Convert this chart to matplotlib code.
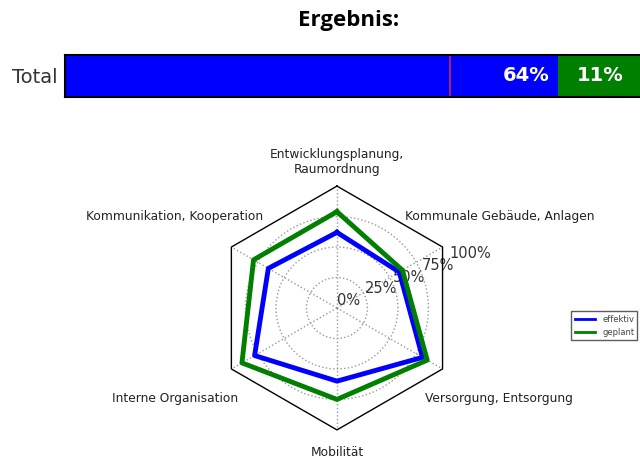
import numpy as np
import matplotlib
matplotlib.use('Agg')
import matplotlib.pyplot as plt
from matplotlib.lines import Line2D

# ----------------------------- data

categories = ['Entwicklungsplanung,\nRaumordnung', 'Kommunale Gebäude, Anlagen',
              'Versorgung, Entsorgung', 'Mobilität',
              'Interne Organisation', 'Kommunikation, Kooperation']
effektiv = [0.62, 0.59, 0.81, 0.60, 0.78, 0.65]
geplant = [0.79, 0.62, 0.855, 0.75, 0.90, 0.79]
r_ticks = [0, 0.25, 0.5, 0.75, 1.0]
r_labels = ['0%', '25%', '50%', '75%', '100%']

total_effektiv = 0.64
total_geplant_extra = 0.11
total_marker = 0.50

# ----------------------------- figure

fig = plt.figure(figsize=(6.4, 4.59), dpi=100)

fig.text(0.544, 0.956, 'Ergebnis:', ha='center', va='center',
         fontsize=16, fontweight='bold', family='Open Sans')

# total bar
axb = fig.add_axes([0.1016, 0.7887, 0.95, 0.0915])
axb.barh(0, total_effektiv, height=1, color='#0000ff', edgecolor='none')
axb.barh(0, total_geplant_extra, left=total_effektiv, height=1,
         color='#007f00', edgecolor='none')
axb.axvline(total_marker, color='#c8284a', lw=1.2)
axb.text(total_effektiv - 0.01, 0, '{:.0f}%'.format(total_effektiv * 100),
         ha='right', va='center', color='white', fontsize=14, fontweight='bold')
axb.text(total_effektiv + total_geplant_extra / 2, 0,
         '{:.0f}%'.format(total_geplant_extra * 100),
         ha='center', va='center', color='white', fontsize=14, fontweight='bold')
axb.set_xlim(0, 0.79)
axb.set_ylim(-0.5, 0.5)
axb.set_xticks([])
axb.set_yticks([0])
axb.set_yticklabels(['Total'], fontsize=14, color='#333333')
axb.tick_params(axis='y', length=0, pad=5)
for s in axb.spines.values():
    s.set_linewidth(1.5)

# radar
angles = np.pi / 2 - np.arange(len(categories)) * 2 * np.pi / len(categories)
ang_closed = np.append(angles, angles[0])

ax = fig.add_axes([0.336, 0.063, 0.381, 0.532], projection='polar')
ax.spines['polar'].set_visible(False)
ax.patch.set_visible(False)
ax.set_ylim(0, 1)

# hexagon frame
ax.plot(ang_closed, np.ones(len(ang_closed)), color='black', lw=1, clip_on=False)

ax.plot(ang_closed, np.append(effektiv, effektiv[0]), color='#0000ff', lw=3.5)
ax.plot(ang_closed, np.append(geplant, geplant[0]), color='#007f00', lw=3.5)

ax.set_thetagrids(np.degrees(angles) % 360, [''] * len(categories))
ax.set_rgrids(r_ticks, r_labels, angle=22.5, fontsize=10.5, color='#333333')
for lab in ax.get_yticklabels():
    lab.set_ha('left')
    lab.set_va('bottom')
ax.grid(True, color='#999999', linestyle=':', lw=1)
ax.yaxis.get_gridlines()[-1].set_visible(False)

# category labels
kw = dict(fontsize=8.8, color='#222222')
fig.text(0.527, 0.646, categories[0], ha='center', va='center',
         multialignment='center', **kw)
fig.text(0.633, 0.529, categories[1], ha='left', va='center', **kw)
fig.text(0.664, 0.131, categories[2], ha='left', va='center', **kw)
fig.text(0.527, 0.015, categories[3], ha='center', va='center', **kw)
fig.text(0.372, 0.131, categories[4], ha='right', va='center', **kw)
fig.text(0.411, 0.529, categories[5], ha='right', va='center', **kw)

handles = [Line2D([], [], color='#0000ff', lw=2), Line2D([], [], color='#007f00', lw=2)]
leg = fig.legend(handles, ['effektiv', 'geplant'], loc='upper left',
                 bbox_to_anchor=(0.886, 0.331), fontsize=6,
                 fancybox=False, edgecolor='#333333', handlelength=2.5)
for t in leg.get_texts():
    t.set_color('#444444')

fig.savefig('out.png', dpi=100)
